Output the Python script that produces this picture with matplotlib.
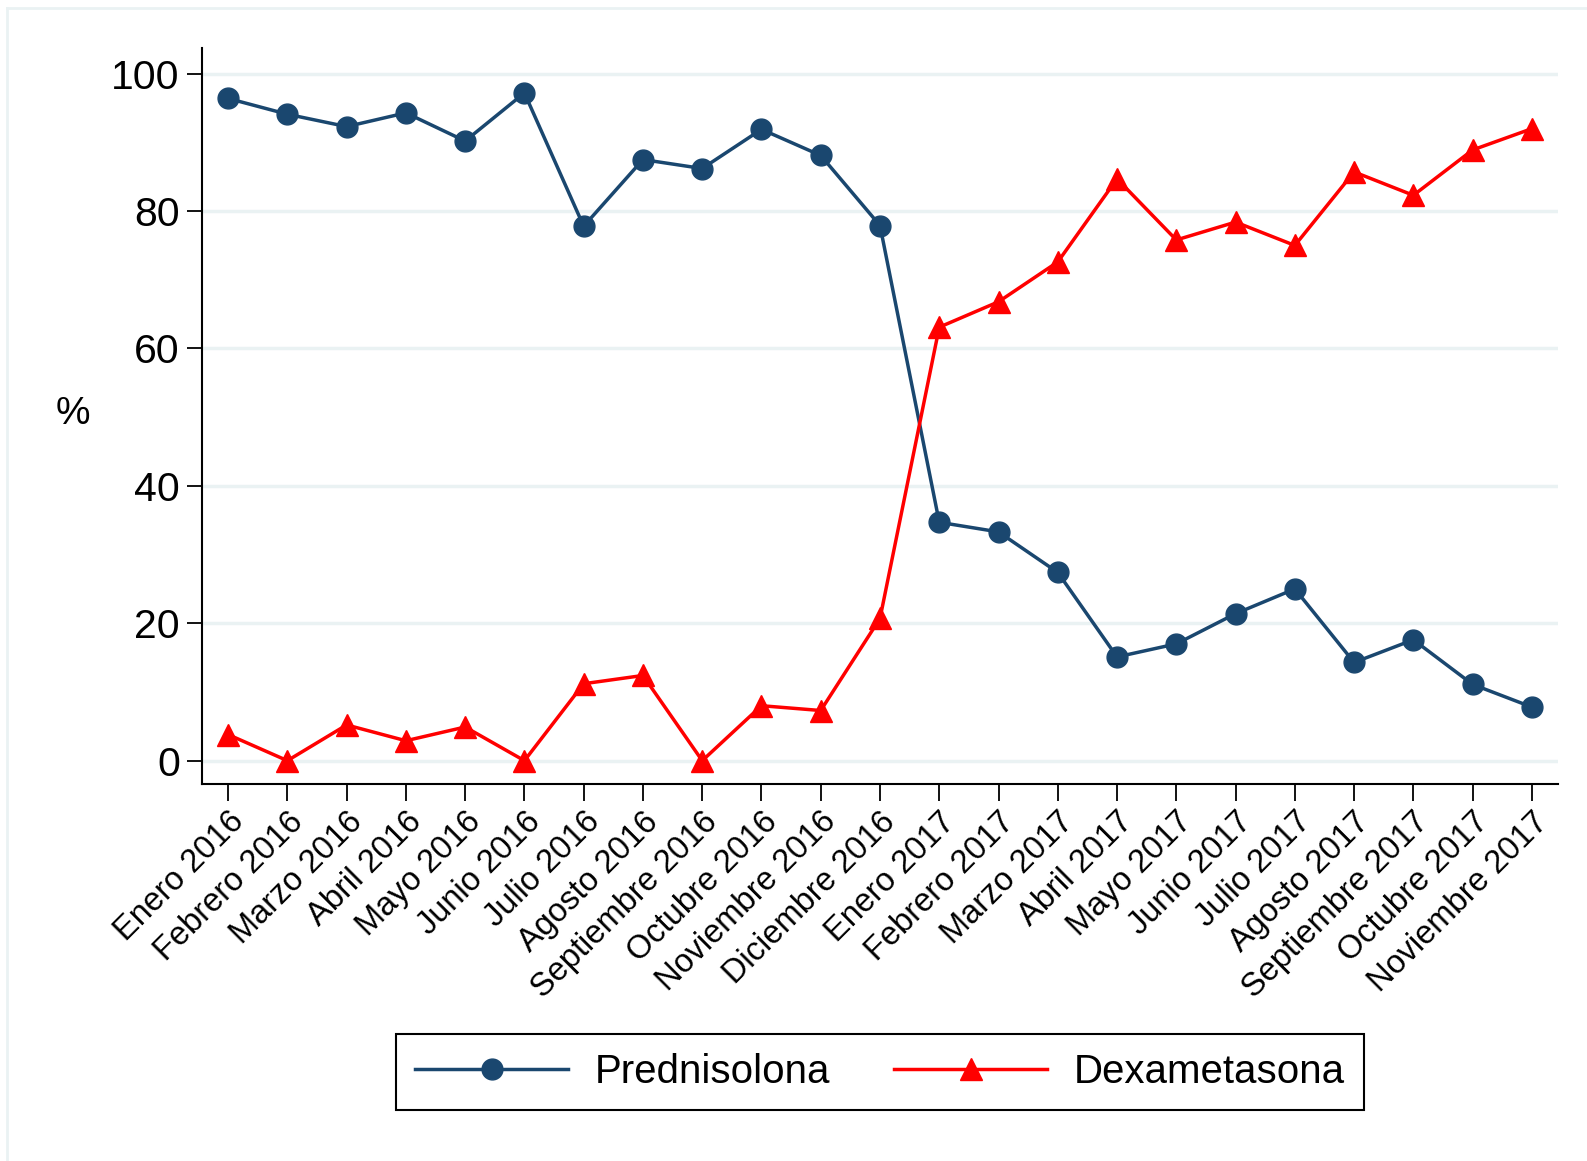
import matplotlib
matplotlib.use("Agg")
import matplotlib.pyplot as plt
from matplotlib.lines import Line2D

plt.rcParams['font.family'] = ['Liberation Sans', 'DejaVu Sans']

meses = ["Enero 2016", "Febrero 2016", "Marzo 2016", "Abril 2016", "Mayo 2016",
         "Junio 2016", "Julio 2016", "Agosto 2016", "Septiembre 2016", "Octubre 2016",
         "Noviembre 2016", "Diciembre 2016", "Enero 2017", "Febrero 2017", "Marzo 2017",
         "Abril 2017", "Mayo 2017", "Junio 2017", "Julio 2017", "Agosto 2017",
         "Septiembre 2017", "Octubre 2017", "Noviembre 2017"]

prednisolona = [96.4, 94.1, 92.3, 94.3, 90.2, 97.2, 77.8, 87.5, 86.2, 91.9, 88.1, 77.9,
                34.7, 33.3, 27.4, 15.1, 17.0, 21.4, 25.0, 14.3, 17.6, 11.1, 7.8]
dexametasona = [3.8, 0.0, 5.2, 2.9, 4.9, 0.0, 11.2, 12.4, 0.0, 8.0, 7.3, 20.7,
                63.1, 66.8, 72.6, 84.7, 75.8, 78.4, 75.0, 85.7, 82.3, 88.9, 92.0]

navy = "#1a476f"
red = "#ff0000"
grid_col = "#eaf2f3"

fig = plt.figure(figsize=(15.87, 11.61), dpi=100)
ax = fig.add_axes([0.1273, 0.3247, 0.8544, 0.6343])

x = list(range(len(meses)))
ax.plot(x, prednisolona, color=navy, lw=2.5, marker='o', ms=15, zorder=3)
ax.plot(x, dexametasona, color=red, lw=2.5, marker='^', ms=16, zorder=3)

ax.set_xlim(-0.44, len(meses) - 1 + 0.44)
ax.set_ylim(-3.4, 103.8)
ax.set_yticks([0, 20, 40, 60, 80, 100])
ax.yaxis.grid(True, color=grid_col, lw=2.5)
ax.set_axisbelow(True)

ax.set_xticks(x)
ax.set_xticklabels(meses, rotation=45, ha='right', rotation_mode='anchor', fontsize=23.5)
ax.tick_params(axis='x', length=12, width=1.3, pad=4)
ax.tick_params(axis='y', length=11, width=1.3, pad=5, labelsize=29.5)

for s in ['top', 'right']:
    ax.spines[s].set_visible(False)
for s in ['left', 'bottom']:
    ax.spines[s].set_linewidth(1.5)

fig.text(0.046, 0.643, "%", fontsize=28, ha='center', va='center')

# outer frame of the graph region
fig.add_artist(Line2D([0.0045, 0.0045], [0.0, 0.993], color=grid_col, lw=2))
fig.add_artist(Line2D([0.0045, 1.0], [0.993, 0.993], color=grid_col, lw=2))

leg = fig.legend(handles=[
    Line2D([], [], color=navy, lw=2.5, marker='o', ms=15, label="Prednisolona"),
    Line2D([], [], color=red, lw=2.5, marker='^', ms=16, label="Dexametasona")],
    loc='center', bbox_to_anchor=(0.5545, 0.0767), ncol=2, fontsize=29,
    handlelength=3.8, handletextpad=0.65, columnspacing=1.6, borderpad=0.48,
    fancybox=False, edgecolor='black', framealpha=1)
leg.get_frame().set_linewidth(1.5)

fig.savefig("out.png", dpi=100)
